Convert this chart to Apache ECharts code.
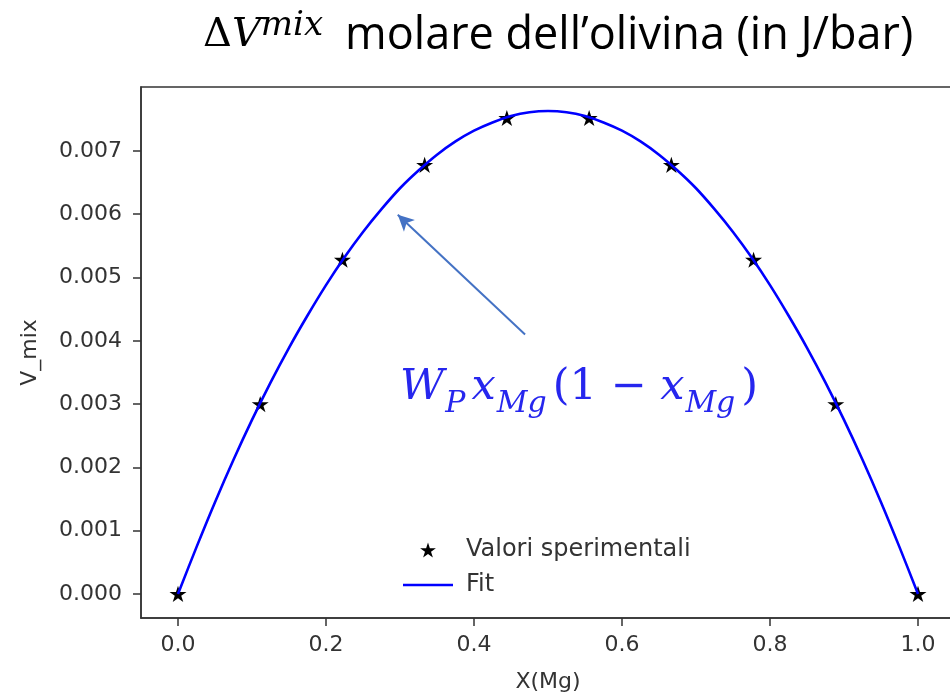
<!DOCTYPE html>
<html>
<head>
<meta charset="utf-8">
<script src="https://cdn.jsdelivr.net/npm/echarts@6/dist/echarts.min.js"></script>
<style>
html,body{margin:0;padding:0;background:#fff;}
#chart{width:950px;height:697px;}
</style>
</head>
<body>
<div id="chart"></div>
<script>
// Experimental points (X(Mg), V_mix)
var expX = [0, 0.1111, 0.2222, 0.3333, 0.4444, 0.5556, 0.6667, 0.7778, 0.8889, 1.0];
var expY = [0, 0.00300, 0.00528, 0.00678, 0.00752, 0.00752, 0.00678, 0.00528, 0.00300, 0];
// Fit curve
var fitX = [0, 0.025, 0.05, 0.075, 0.10, 0.125, 0.15, 0.175, 0.20, 0.225, 0.25, 0.275, 0.30, 0.325, 0.35, 0.375, 0.40, 0.425, 0.45, 0.475, 0.50,
            0.525, 0.55, 0.575, 0.60, 0.625, 0.65, 0.675, 0.70, 0.725, 0.75, 0.775, 0.80, 0.825, 0.85, 0.875, 0.90, 0.925, 0.95, 0.975, 1.0];
var fitY = [0, 0.00074, 0.00145, 0.00212, 0.00275, 0.00334, 0.00389, 0.00440, 0.00488, 0.00532, 0.00572, 0.00608, 0.00641, 0.00669, 0.00694, 0.00715, 0.00732, 0.00745, 0.00755, 0.00761, 0.00763,
            0.00761, 0.00755, 0.00745, 0.00732, 0.00715, 0.00694, 0.00669, 0.00641, 0.00608, 0.00572, 0.00532, 0.00488, 0.00440, 0.00389, 0.00334, 0.00275, 0.00212, 0.00145, 0.00074, 0];
// Tick labels
var xTicks = [0, 0.2, 0.4, 0.6, 0.8, 1.0];
var yTicks = [0, 0.001, 0.002, 0.003, 0.004, 0.005, 0.006, 0.007];
// Arrow annotation (data coords): tail, head
var arrowTail = [0.469, 0.0041];
var arrowHead = [0.297, 0.00599];
var formulaPos = [0.542, 0.00316];

var star = 'path://M0,-100 L22.45,-30.9 L95.1,-30.9 L36.3,11.8 L58.8,80.9 L0,38.2 L-58.8,80.9 L-36.3,11.8 L-95.1,-30.9 L-22.45,-30.9 Z';
var lineIcon = 'path://M0,0 L100,0 L100,5 L0,5 Z';

var expData = expX.map(function (x, i) { return [x, expY[i]]; });
var fitData = fitX.map(function (x, i) { return [x, fitY[i]]; });

var tickFont = {fontFamily: 'DejaVu Sans', fontSize: 22, color: '#333'};
var blue = '#2626ee';

function tok(o) { return Object.assign({verticalAlign: 'top', lineHeight: 56}, o); }

var chart = echarts.init(document.getElementById('chart'), null, {renderer: 'canvas'});
chart.setOption({
  animation: false,
  backgroundColor: '#fff',
  title: {
    left: 203, top: 6, padding: 0,
    text: '{d|Δ}{v|V}{s|mix}{t|molare dell’olivina (in J/bar)}',
    textStyle: {
      rich: {
        d: tok({fontFamily: 'DejaVu Serif', fontWeight: 'normal', fontSize: 40, color: '#000', padding: [10, 0, 0, 0]}),
        v: tok({fontFamily: 'DejaVu Serif', fontStyle: 'italic', fontWeight: 'normal', fontSize: 40, color: '#000', padding: [10, 0, 0, 0]}),
        s: tok({fontFamily: 'DejaVu Serif', fontStyle: 'italic', fontWeight: 'normal', fontSize: 34, color: '#000', padding: [3, 22, 0, 0]}),
        t: tok({fontFamily: 'Open Sans', fontWeight: 'normal', fontSize: 45, color: '#000', padding: [8, 0, 0, 0]})
      }
    }
  },
  grid: {left: 141, right: -5, top: 87, bottom: 79, show: true, borderColor: '#333', borderWidth: 1.5, backgroundColor: 'transparent', outerBoundsMode: 'none', containLabel: false},
  legend: {
    orient: 'vertical', left: 398, top: 533, itemWidth: 50, itemHeight: 15, itemGap: 11,
    textStyle: {fontFamily: 'DejaVu Sans', fontSize: 24, color: '#333', padding: [0, 0, 0, 8]},
    data: [{name: 'Valori sperimentali', icon: star}, {name: 'Fit', icon: lineIcon}]
  },
  xAxis: {
    type: 'value', min: -0.05, max: 1.05,
    name: 'X(Mg)', nameLocation: 'middle', nameGap: 53,
    nameTextStyle: tickFont,
    axisLine: {show: true, onZero: false, lineStyle: {color: '#333', width: 1.5}},
    axisTick: {show: true, length: 8, lineStyle: {color: '#333', width: 1.5}, customValues: xTicks},
    axisLabel: Object.assign({margin: 16, customValues: xTicks, formatter: function (v) { return v.toFixed(1); }}, tickFont),
    splitLine: {show: false}
  },
  yAxis: {
    type: 'value', min: -0.00038, max: 0.00801,
    name: 'V_mix', nameLocation: 'middle', nameGap: 100,
    nameTextStyle: tickFont,
    axisLine: {show: true, onZero: false, lineStyle: {color: '#333', width: 1.5}},
    axisTick: {show: true, length: 8, lineStyle: {color: '#333', width: 1.5}, customValues: yTicks},
    axisLabel: Object.assign({margin: 19, customValues: yTicks, formatter: function (v) { return v.toFixed(3); }}, tickFont),
    splitLine: {show: false}
  },
  series: [
    {
      name: 'Valori sperimentali', type: 'scatter', data: expData,
      symbol: star, symbolSize: 17, symbolKeepAspect: true,
      itemStyle: {color: '#000', opacity: 1}, z: 2
    },
    {
      name: 'Fit', type: 'line', data: fitData, smooth: 0.3,
      symbol: 'none', showSymbol: false,
      lineStyle: {color: '#0000ff', width: 2.6}, itemStyle: {color: '#0000ff'}, z: 3,
      markLine: {
        silent: true, symbol: ['none', 'arrow'], symbolSize: [12, 16],
        lineStyle: {color: '#4472c4', width: 2, type: 'solid'},
        label: {show: false},
        data: [[{coord: arrowTail}, {coord: arrowHead}]]
      },
      markPoint: {
        silent: true, symbol: 'circle', symbolSize: 1, itemStyle: {color: 'transparent'},
        data: [{coord: formulaPos}],
        label: {
          show: true, position: 'inside',
          formatter: '{m|W}{b|P}{m|x}{b|Mg}{n|(1 − }{m|x}{b|Mg}{n|)}',
          rich: {
            m: tok({fontFamily: 'DejaVu Serif', fontStyle: 'italic', fontSize: 43, color: blue}),
            n: tok({fontFamily: 'DejaVu Serif', fontSize: 43, color: blue}),
            b: tok({fontFamily: 'DejaVu Serif', fontStyle: 'italic', fontSize: 30, color: blue, padding: [23, 6, 0, 1]})
          }
        }
      }
    }
  ]
});
</script>
</body>
</html>
